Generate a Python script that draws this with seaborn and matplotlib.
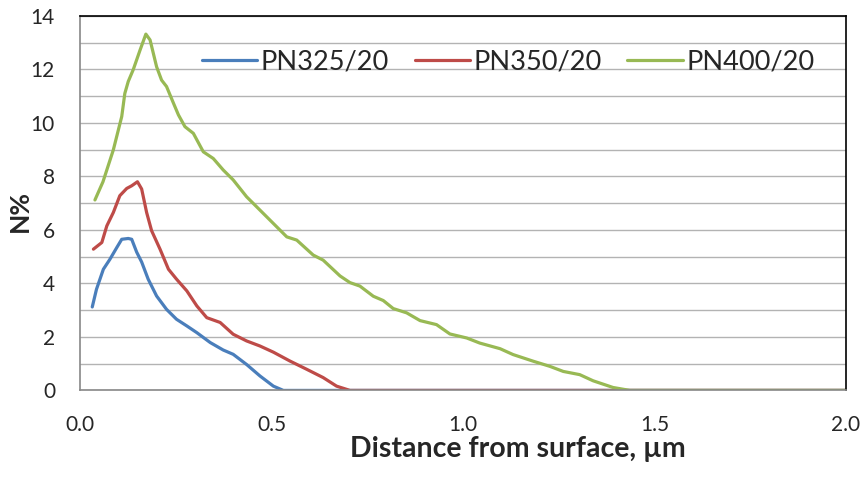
import numpy as np
import pandas as pd
import matplotlib
matplotlib.use("Agg")
import matplotlib.pyplot as plt
import seaborn as sns

# ── Data ──────────────────────────────────────────────────────────────────────
pn325_x = [0.032, 0.043, 0.061, 0.078, 0.096, 0.109, 0.126, 0.135, 0.148, 0.161,
           0.178, 0.200, 0.226, 0.252, 0.279, 0.305, 0.340, 0.374, 0.400, 0.435,
           0.470, 0.505, 0.531, 2.0]
pn325_y = [3.12, 3.78, 4.53, 4.90, 5.34, 5.65, 5.68, 5.65, 5.17, 4.80,
           4.16, 3.53, 3.03, 2.66, 2.41, 2.16, 1.79, 1.51, 1.35, 0.97,
           0.54, 0.16, 0.0, 0.0]

pn350_x = [0.035, 0.057, 0.070, 0.087, 0.104, 0.122, 0.135, 0.150, 0.161, 0.174,
           0.187, 0.209, 0.231, 0.252, 0.279, 0.305, 0.331, 0.366, 0.400, 0.435,
           0.470, 0.505, 0.548, 0.592, 0.635, 0.670, 0.705, 2.0]
pn350_y = [5.28, 5.53, 6.15, 6.65, 7.28, 7.55, 7.65, 7.80, 7.53, 6.65,
           5.97, 5.28, 4.53, 4.16, 3.72, 3.16, 2.72, 2.54, 2.10, 1.85,
           1.66, 1.43, 1.10, 0.79, 0.48, 0.16, 0.0, 0.0]

pn400_x = [0.039, 0.060, 0.087, 0.109, 0.117, 0.126, 0.139, 0.157, 0.172, 0.183,
           0.200, 0.213, 0.226, 0.244, 0.257, 0.274, 0.296, 0.322, 0.348, 0.374,
           0.400, 0.435, 0.470, 0.505, 0.540, 0.566, 0.609, 0.635, 0.679, 0.705,
           0.731, 0.766, 0.792, 0.818, 0.853, 0.888, 0.931, 0.966, 1.010, 1.044,
           1.097, 1.131, 1.184, 1.227, 1.262, 1.305, 1.340, 1.392, 1.436, 2.0]
pn400_y = [7.12, 7.80, 8.99, 10.24, 11.10, 11.55, 11.99, 12.73, 13.32, 13.10,
           12.10, 11.60, 11.36, 10.74, 10.30, 9.86, 9.61, 8.92, 8.67, 8.24,
           7.87, 7.24, 6.74, 6.24, 5.74, 5.62, 5.06, 4.87, 4.28, 4.03,
           3.90, 3.52, 3.36, 3.06, 2.90, 2.61, 2.46, 2.11, 1.96, 1.77,
           1.56, 1.34, 1.09, 0.90, 0.71, 0.59, 0.36, 0.11, 0.0, 0.0]

series_names = ["PN325/20", "PN350/20", "PN400/20"]
colors = ["#4A7EBB", "#BE4B48", "#98B954"]
x_ticks = [0, 0.5, 1.0, 1.5, 2.0]
x_ticklabels = ["0.0", "0.5", "1.0", "1.5", "2.0"]

df = pd.concat([
    pd.DataFrame({"x": pn325_x, "y": pn325_y, "series": series_names[0]}),
    pd.DataFrame({"x": pn350_x, "y": pn350_y, "series": series_names[1]}),
    pd.DataFrame({"x": pn400_x, "y": pn400_y, "series": series_names[2]}),
], ignore_index=True)

# ── Plot ──────────────────────────────────────────────────────────────────────
sns.set_style("white")
plt.rcParams["font.family"] = ["Lato", "DejaVu Sans"]

fig = plt.figure(figsize=(8.64, 4.82), dpi=100)
ax = fig.add_axes([0.0926, 0.19, 0.8864, 0.777])

ax.yaxis.set_minor_locator(matplotlib.ticker.MultipleLocator(1))
ax.grid(axis="y", which="both", color="#B3B3B3", lw=1.0)
ax.set_axisbelow(True)

sns.lineplot(data=df, x="x", y="y", hue="series", palette=colors,
             estimator=None, sort=False, lw=2.3, ax=ax)

ax.set_xlim(0, 2.0)
ax.set_ylim(0, 14)
ax.set_xticks(x_ticks)
ax.set_xticklabels(x_ticklabels)
ax.set_yticks(range(0, 15, 2))
ax.tick_params(axis="both", which="major", direction="out", length=6,
               color="#888888", labelsize=15, pad=12)
ax.tick_params(axis="y", which="minor", length=0)

for s in ["left", "bottom"]:
    ax.spines[s].set_color("#888888")
    ax.spines[s].set_linewidth(1.2)
for s in ["top", "right"]:
    ax.spines[s].set_color("black")
    ax.spines[s].set_linewidth(1.2)

ax.set_xlabel("Distance from surface, µm", fontsize=20.5, fontweight="bold")
ax.set_ylabel("N%", fontsize=19, fontweight="bold")
ax.xaxis.set_label_coords(0.572, -0.122)
ax.yaxis.set_label_coords(-0.063, 0.48)

leg = ax.legend(loc="center", bbox_to_anchor=(0.559, 0.877), ncol=3, frameon=False,
                fontsize=19.5, handlelength=2.05, handletextpad=0.12,
                columnspacing=0.95)
leg.set_title(None)

fig.savefig("out.png", dpi=100)
